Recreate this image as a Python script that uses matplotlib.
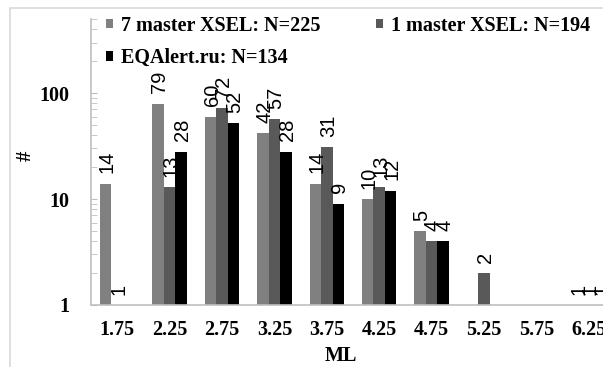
import numpy as np
import matplotlib
matplotlib.use("Agg")
from matplotlib import pyplot as plt
from matplotlib.patches import Rectangle

# magnitude bins and event counts per catalogue
ml_bins = ["1.75", "2.25", "2.75", "3.25", "3.75", "4.25", "4.75", "5.25", "5.75", "6.25"]
xsel7 = [14, 79, 60, 42, 14, 10, 5, np.nan, np.nan, 1]
xsel1 = [1, 13, 72, 57, 31, 13, 4, 2, np.nan, 1]
eqalert = [np.nan, 28, 52, 28, 9, 12, 4, np.nan, np.nan, 1]
names = ["7 master XSEL: N=225", "1 master XSEL: N=194", "EQAlert.ru: N=134"]

W, H = 603, 367
fig = plt.figure(figsize=(W / 100, H / 100), dpi=100)
ax = fig.add_axes([91 / W, (H - 305) / H, 524 / W, 286 / H])

serif = "Liberation Serif"
x = np.arange(len(ml_bins))
w = 0.22
colors = ["#808080", "#595959", "#000000"]
bars = []
for i, (vals, c, name) in enumerate(zip([xsel7, xsel1, eqalert], colors, names)):
    b = ax.bar(x + (i - 1) * w, vals, w, color=c, label=name)
    bars.append(b)
    for xi, v in zip(x + (i - 1) * w, vals):
        if np.isnan(v):
            continue
        ax.annotate(str(int(v)), (xi, v), xytext=(1.2, 7.5), textcoords="offset points",
                    rotation=90, ha="center", va="bottom",
                    fontsize=14.5, family="Liberation Sans")

ax.set_yscale("log")
ax.set_ylim(1, 500)
ax.set_xlim(-0.5, len(ml_bins) - 0.5)
ax.set_xticks(x)
ax.set_xticklabels(ml_bins)
ax.set_yticks([1, 10, 100])
ax.set_yticklabels(["1", "10", "100"])
for lab in ax.get_xticklabels() + ax.get_yticklabels():
    lab.set_family(serif)
    lab.set_fontweight("bold")
    lab.set_fontsize(14.5)
ax.tick_params(axis="x", length=0, pad=11)
ax.tick_params(axis="y", which="both", direction="in", length=4.5, color="#bfbfbf", pad=15.5)

for s in ["top", "right"]:
    ax.spines[s].set_visible(False)
for s in ["left", "bottom"]:
    ax.spines[s].set_color("#bfbfbf")
    ax.spines[s].set_linewidth(1.2)

fig.text(341 / W, 1 - 356 / H, "ML", ha="center", va="center",
         family=serif, fontweight="bold", fontsize=14.5)
fig.text(26 / W, 1 - 156 / H, "#", ha="center", va="center", rotation=90,
         family=serif, fontweight="bold", fontsize=15)

leg = ax.legend([bars[0], bars[2], bars[1]], [names[0], names[2], names[1]],
                ncol=2, frameon=False, loc="upper left",
                bbox_to_anchor=(106 / W, 1 - 16 / H), bbox_transform=fig.transFigure,
                borderpad=0, borderaxespad=0, handlelength=0.34, handleheight=0.34,
                handletextpad=0.42, columnspacing=2.75, labelspacing=0.6,
                prop={"family": serif, "weight": "bold", "size": 14.5})

# outer chart frame
fig.patches.append(Rectangle((10 / W, -0.1), 1.0, 1.1 - 8 / H, transform=fig.transFigure,
                             fill=False, edgecolor="#d9d9d9", linewidth=1.2))

fig.savefig("out.png", dpi=100)
